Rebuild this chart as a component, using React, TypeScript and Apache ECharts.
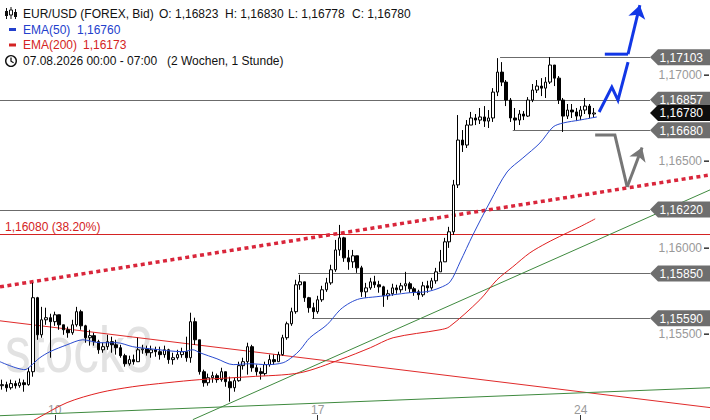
import React, { useEffect, useRef } from 'react';
import * as echarts from 'echarts';

const FONT = '"Liberation Sans", Arial, sans-serif';

// ---- axes ----
const SLOT_COUNT = 162; // 2-hour slots across the full width (incl. empty future slots)
const dayTickIdx = [12, 72, 132];
const dayTickLabel = ['10', '17', '24'];
const Y_MIN = 1.15;
const Y_MAX = 1.17435;
const Y_STEP = 0.005;
const yTickValues = [1.155, 1.16, 1.165, 1.17];

// ---- candles (2-hour) ----
const firstOpen = 1.15199;
const closes = [
  1.15205, 1.15187, 1.15211, 1.15199, 1.15216, 1.15205, 1.1528, 1.15709, 1.15494, 1.15581,
  1.15593, 1.1557, 1.1561, 1.15552, 1.15523, 1.15506, 1.15552, 1.15628, 1.15546, 1.15477,
  1.15489, 1.15454, 1.15407, 1.15425, 1.15454, 1.15436, 1.15419, 1.15373, 1.15326, 1.1535,
  1.15338, 1.15407, 1.15413, 1.1539, 1.15407, 1.15396, 1.15379, 1.15407, 1.1535, 1.15361,
  1.15379, 1.15396, 1.15361, 1.1557, 1.15465, 1.1528, 1.15216, 1.15245, 1.15257, 1.15234,
  1.1528, 1.15222, 1.15187, 1.15228, 1.15315, 1.15338, 1.15425, 1.15303, 1.1528, 1.15269,
  1.15321, 1.1535, 1.15338, 1.15379, 1.15477, 1.15558, 1.15628, 1.15784, 1.15801, 1.15709,
  1.15651, 1.15628, 1.15697, 1.15755, 1.15795, 1.15871, 1.15986, 1.16056, 1.1594, 1.15917,
  1.15952, 1.15882, 1.15743, 1.15766, 1.15801, 1.15784, 1.15772, 1.1572, 1.15732, 1.15766,
  1.15755, 1.15778, 1.1579, 1.15761, 1.15743, 1.15726, 1.15778, 1.15766, 1.15807, 1.15859,
  1.15917, 1.16033, 1.16091, 1.16363, 1.16623, 1.16594, 1.1671, 1.16751, 1.16739, 1.16757,
  1.16733, 1.16751, 1.16901, 1.17017, 1.16959, 1.16855, 1.16751, 1.16739, 1.16774, 1.16762,
  1.16855, 1.16913, 1.16936, 1.16924, 1.16959, 1.17058, 1.16982, 1.16855, 1.16762, 1.16797,
  1.16786, 1.16762, 1.16797, 1.1682, 1.16774, 1.1678,
];
const highs = [
  1.15234, 1.15222, 1.15234, 1.15228, 1.1524, 1.15234, 1.15303, 1.15795, 1.15714, 1.15656,
  1.15651, 1.15616, 1.15628, 1.15593, 1.15552, 1.15541, 1.15581, 1.15656, 1.15639, 1.15552,
  1.15523, 1.15506, 1.15465, 1.15448, 1.15494, 1.15483, 1.15465, 1.15436, 1.15384, 1.15373,
  1.15379, 1.15477, 1.15436, 1.15431, 1.15431, 1.15425, 1.15425, 1.15431, 1.15413, 1.1539,
  1.15407, 1.15419, 1.15483, 1.15622, 1.15593, 1.15465, 1.15292, 1.15269, 1.1528, 1.15269,
  1.15303, 1.1528, 1.15251, 1.15245, 1.15338, 1.15361, 1.15448, 1.15436, 1.15321, 1.15303,
  1.15338, 1.15379, 1.15379, 1.15396, 1.15494, 1.1557, 1.15651, 1.15813, 1.15842, 1.15795,
  1.15714, 1.1568, 1.1572, 1.15778, 1.15824, 1.159, 1.16044, 1.16131, 1.16062, 1.15986,
  1.15986, 1.15952, 1.15894, 1.15795, 1.15824, 1.15836, 1.15807, 1.15778, 1.15755, 1.1579,
  1.15784, 1.15795, 1.15859, 1.15801, 1.15772, 1.15755, 1.15801, 1.15807, 1.15824, 1.15882,
  1.15986, 1.16056, 1.1612, 1.16392, 1.16768, 1.16681, 1.16739, 1.16786, 1.16774, 1.16809,
  1.1682, 1.16797, 1.16924, 1.17098, 1.17075, 1.16971, 1.16867, 1.16809, 1.16797, 1.16791,
  1.16872, 1.16948, 1.16971, 1.16982, 1.16988, 1.17104, 1.17052, 1.16994, 1.16867, 1.16832,
  1.16832, 1.16809, 1.1682, 1.16867, 1.16832, 1.16809,
];
const lows = [
  1.15176, 1.15164, 1.15176, 1.15182, 1.15187, 1.15164, 1.15199, 1.15251, 1.15465, 1.15477,
  1.15552, 1.15361, 1.15546, 1.15523, 1.15494, 1.15477, 1.15494, 1.15541, 1.15523, 1.15448,
  1.15431, 1.15431, 1.15384, 1.1539, 1.15407, 1.1539, 1.15379, 1.15361, 1.15309, 1.15315,
  1.15321, 1.15338, 1.15384, 1.15373, 1.15361, 1.15367, 1.1535, 1.15361, 1.15326, 1.15321,
  1.1535, 1.15361, 1.15338, 1.15332, 1.15436, 1.15263, 1.15193, 1.15199, 1.15216, 1.15216,
  1.15222, 1.15193, 1.15106, 1.15164, 1.15222, 1.15292, 1.15263, 1.1528, 1.15257, 1.15234,
  1.15257, 1.15309, 1.15321, 1.15338, 1.15373, 1.15465, 1.15546, 1.15616, 1.15755, 1.15685,
  1.15622, 1.15587, 1.15616, 1.15685, 1.15743, 1.15784, 1.15859, 1.15952, 1.15917, 1.15871,
  1.15882, 1.15853, 1.15714, 1.15709, 1.15755, 1.15766, 1.15738, 1.15656, 1.15697, 1.1572,
  1.15732, 1.15738, 1.15749, 1.15738, 1.1572, 1.15697, 1.15714, 1.15738, 1.15755, 1.1579,
  1.15859, 1.15917, 1.15998, 1.16073, 1.16345, 1.16554, 1.16577, 1.16716, 1.1671, 1.16716,
  1.16699, 1.16693, 1.16728, 1.16878, 1.16936, 1.1682, 1.16728, 1.16681, 1.1671, 1.16739,
  1.16757, 1.16843, 1.16896, 1.16878, 1.16867, 1.16948, 1.16936, 1.16832, 1.1667, 1.16745,
  1.16751, 1.16733, 1.16739, 1.16774, 1.16751, 1.16751,
];

// ---- indicators [slot, value] ----
const ema50 = [
  [-0.5, 1.15338], [5.2, 1.15292], [6.3, 1.15309], [8.6, 1.15361], [10.9, 1.15396], [14.8, 1.15436],
  [18.4, 1.15465], [22.3, 1.15448], [26.2, 1.15448], [29.8, 1.15425], [33.7, 1.15413], [41.3, 1.15396],
  [43.5, 1.15407], [45.1, 1.1539], [49, 1.15355], [52.7, 1.15321], [56.5, 1.15326], [60.4, 1.15321],
  [64.1, 1.15332], [66.3, 1.15367], [68, 1.15407], [70.2, 1.15477], [74.1, 1.15552], [77.1, 1.15639],
  [79.4, 1.1568], [81.6, 1.15703], [85.5, 1.15715], [89.2, 1.15726], [93, 1.15738], [96.9, 1.15744],
  [99.9, 1.15767], [102.2, 1.15801], [104.5, 1.15917], [107.4, 1.16073], [111.3, 1.16264],
  [115.2, 1.16438], [118.8, 1.16519], [122.7, 1.16606], [125.7, 1.16699], [128, 1.16722],
  [131.8, 1.16739], [135.7, 1.16757],
];
const ema200 = [
  [1, 1.1491], [7.9, 1.15008], [14.8, 1.15101], [22.3, 1.15159], [29.8, 1.15193], [37.6, 1.15216],
  [45.1, 1.15234], [56.5, 1.15251], [68, 1.15274], [77.1, 1.1535], [84, 1.15419], [89.2, 1.15477],
  [99.9, 1.15523], [102, 1.1554], [109, 1.15697], [112.9, 1.15813], [116.5, 1.15888], [120.4, 1.15969],
  [124.3, 1.16027], [128, 1.16074], [131.8, 1.1612], [135.3, 1.16166],
];

// ---- drawn annotations [slot, price] ----
const redDottedTrend = [[-0.5, 1.15772], [161.5, 1.16421]];
const redTrend = [[-0.5, 1.15575], [161.5, 1.15072]];
const greenFlatTrend = [[-0.5, 1.15025], [161.5, 1.15187]];
const greenSteepTrend = [[43.5, 1.15002], [161.5, 1.16334]];
const blueZigzag = [[136.2, 1.16786], [139.1, 1.1693], [140.5, 1.16855], [142.8, 1.17075]];
const blueTopBar = [[137.5, 1.17121], [142.8, 1.17121]];
const blueShaft = [[142.8, 1.17121], [145.5, 1.17405]];
const grayPath = [[135.3, 1.16652], [139.8, 1.16652], [142.6, 1.16351]];
const grayShaft = [[142.6, 1.16351], [146.0, 1.1658]];

const levelPrices = [1.17103, 1.16857, 1.1668, 1.1622, 1.1585, 1.1559];
const levelStarts = [113.6, -0.5, 116.5, -0.5, 67.5, 70.7];
const fibPrice = 1.1608;
const fibLabel = '1,16080 (38.20%)';
const lastPrice = 1.1678;

// ---- header texts ----
const headerTitle = 'EUR/USD (FOREX, Bid)';
const headerOHLC = ['O: 1,16823', 'H: 1,16830', 'L: 1,16778', 'C: 1,16780'];
const headerOHLCx = [159, 225, 288, 352];
const ema50Legend = ['EMA(50)', '1,16760'];
const ema200Legend = ['EMA(200)', '1,16173'];
const dateLegend = ['07.08.2026 00:00 - 07:00', '(2 Wochen, 1 Stunde)'];

const fmt = (v: number) => v.toFixed(5).replace('.', ',');

const BLUE_TXT = '#2340cc';
const RED_TXT = '#d42323';

export default function App() {
  const ref = useRef<HTMLDivElement>(null);
  useEffect(() => {
    if (!ref.current) return;
    const chart = echarts.init(ref.current, undefined, { renderer: 'svg' });

    const categories = Array.from({ length: SLOT_COUNT }, (_, i) => {
      const k = dayTickIdx.indexOf(i);
      return k >= 0 ? dayTickLabel[k] : '';
    });
    const showTick = (i: number) => dayTickIdx.indexOf(i) >= 0;

    const candles = closes.map((c, i) => {
      const o = i === 0 ? firstOpen : closes[i - 1];
      const h = Math.max(highs[i], o, c);
      const l = Math.min(lows[i], o, c);
      return [o, c, l, h];
    });

    const levelData = levelPrices.map((p, i) => [levelStarts[i], p, 0]);
    levelData.push([-0.5, fibPrice, 2]);
    // kind 2 = axis tick mark, 0 = grey level tag, 1 = current price tag
    const tagData = yTickValues.map((v) => [0, v, 2]);
    levelPrices.forEach((p) => tagData.push([0, p, 0]));
    tagData.push([0, lastPrice, 1]);

    const txt = (text: string, x: number, y: number, fill: string) => ({
      type: 'text',
      x,
      y,
      silent: true,
      style: { text, fill, font: `12px ${FONT}`, align: 'left', verticalAlign: 'middle' },
    });

    const option: any = {
      animation: false,
      backgroundColor: '#ffffff',
      textStyle: { fontFamily: FONT },
      grid: { left: 0, right: 0, top: 0, bottom: 0, containLabel: false },
      xAxis: [
        {
          type: 'category',
          data: categories,
          boundaryGap: true,
          axisLine: { show: false, onZero: false },
          axisTick: {
            show: true,
            inside: true,
            length: 5,
            alignWithLabel: true,
            interval: (i: number) => showTick(i),
            lineStyle: { color: '#333' },
          },
          axisLabel: {
            inside: true,
            margin: 4,
            color: '#999',
            fontSize: 12,
            fontFamily: FONT,
            interval: (i: number) => showTick(i),
          },
          splitLine: { show: false },
        },
        { type: 'value', min: -0.5, max: SLOT_COUNT - 0.5, show: false, axisLine: { onZero: false } },
      ],
      yAxis: {
        type: 'value',
        position: 'right',
        min: Y_MIN,
        max: Y_MAX,
        interval: Y_STEP,
        axisLine: { show: false, onZero: false },
        axisTick: { show: false },
        axisLabel: {
          inside: true,
          margin: 8,
          color: '#999',
          fontSize: 12,
          fontFamily: FONT,
          showMinLabel: false,
          showMaxLabel: false,
          formatter: (v: number) => fmt(v),
        },
        splitLine: { show: false },
      },
      graphic: [
        {
          type: 'text',
          x: 5,
          y: 350,
          z: -10,
          silent: true,
          scaleX: 0.8,
          style: { text: 'stock3', fill: '#e2e2e2', font: `64px ${FONT}`, align: 'left', verticalAlign: 'middle' },
        },
        // candle icon
        { type: 'line', shape: { x1: 6.5, y1: 8, x2: 6.5, y2: 19 }, style: { stroke: '#111', lineWidth: 1 } },
        { type: 'rect', shape: { x: 5, y: 11, width: 3, height: 5 }, style: { fill: '#111' } },
        { type: 'line', shape: { x1: 11, y1: 7, x2: 11, y2: 19 }, style: { stroke: '#111', lineWidth: 1 } },
        { type: 'rect', shape: { x: 9.5, y: 10, width: 3, height: 5 }, style: { fill: '#fff', stroke: '#111', lineWidth: 1 } },
        { type: 'line', shape: { x1: 15.5, y1: 9, x2: 15.5, y2: 19 }, style: { stroke: '#111', lineWidth: 1 } },
        { type: 'rect', shape: { x: 14, y: 12, width: 3, height: 5 }, style: { fill: '#111' } },
        txt(headerTitle, 23, 13.5, '#111'),
        ...headerOHLC.map((t, i) => txt(t, headerOHLCx[i], 13.5, '#111')),
        { type: 'rect', shape: { x: 9, y: 28, width: 7, height: 3 }, style: { fill: BLUE_TXT } },
        txt(ema50Legend[0], 23, 29.5, BLUE_TXT),
        txt(ema50Legend[1], 77, 29.5, BLUE_TXT),
        { type: 'rect', shape: { x: 9, y: 43.5, width: 7, height: 3 }, style: { fill: RED_TXT } },
        txt(ema200Legend[0], 23, 45, RED_TXT),
        txt(ema200Legend[1], 83, 45, RED_TXT),
        { type: 'circle', shape: { cx: 11, cy: 61, r: 5.3 }, style: { fill: 'none', stroke: '#111', lineWidth: 1.4 } },
        { type: 'polyline', shape: { points: [[11, 57.6], [11, 61.2], [13.6, 62.8]] }, style: { fill: 'none', stroke: '#111', lineWidth: 1.3 } },
        txt(dateLegend[0], 23, 61, '#111'),
        txt(dateLegend[1], 167, 61, '#111'),
      ],
      series: [
        {
          type: 'custom',
          name: 'levels',
          xAxisIndex: 1,
          yAxisIndex: 0,
          z: 1,
          silent: true,
          data: levelData,
          renderItem: (params: any, api: any) => {
            const cs = params.coordSys;
            const kind = api.value(2);
            const p = api.coord([api.value(0), api.value(1)]);
            const y = Math.round(p[1]) + 0.5;
            const right = cs.x + cs.width;
            if (kind === 2) {
              return {
                type: 'group',
                children: [
                  { type: 'line', shape: { x1: cs.x, y1: y, x2: right, y2: y }, style: { stroke: '#d42323', lineWidth: 1 } },
                  {
                    type: 'text',
                    style: { text: fibLabel, x: cs.x + 5, y: y - 2, fill: RED_TXT, font: `12px ${FONT}`, align: 'left', verticalAlign: 'bottom' },
                  },
                ],
              };
            }
            return {
              type: 'line',
              shape: { x1: Math.max(cs.x, p[0]), y1: y, x2: right - 60, y2: y },
              style: { stroke: '#6b6b6b', lineWidth: 1 },
            };
          },
        },
        {
          type: 'lines',
          name: 'trend',
          coordinateSystem: 'cartesian2d',
          xAxisIndex: 1,
          yAxisIndex: 0,
          z: 2,
          silent: true,
          symbol: 'none',
          data: [
            { coords: redDottedTrend, lineStyle: { color: '#d9263b', width: 3.5, type: [4, 3.5], opacity: 1 } },
            { coords: redTrend, lineStyle: { color: '#e02b2b', width: 1, type: 'solid', opacity: 1 } },
            { coords: greenFlatTrend, lineStyle: { color: '#3f8a3f', width: 1, type: 'solid', opacity: 1 } },
            { coords: greenSteepTrend, lineStyle: { color: '#3f8a3f', width: 1, type: 'solid', opacity: 1 } },
          ],
        },
        {
          type: 'candlestick',
          name: 'EUR/USD',
          xAxisIndex: 0,
          yAxisIndex: 0,
          z: 3,
          barWidth: 3,
          data: candles,
          itemStyle: {
            color: '#ffffff',
            color0: '#000000',
            borderColor: '#000000',
            borderColor0: '#000000',
            borderWidth: 1,
          },
        },
        {
          type: 'line',
          name: 'EMA(200)',
          xAxisIndex: 1,
          yAxisIndex: 0,
          z: 4,
          data: ema200,
          showSymbol: false,
          smooth: 0.3,
          lineStyle: { color: '#e02020', width: 1 },
        },
        {
          type: 'line',
          name: 'EMA(50)',
          xAxisIndex: 1,
          yAxisIndex: 0,
          z: 4,
          data: ema50,
          showSymbol: false,
          smooth: 0.3,
          lineStyle: { color: '#2a4bd0', width: 1 },
        },
        {
          type: 'lines',
          name: 'arrows',
          coordinateSystem: 'cartesian2d',
          xAxisIndex: 1,
          yAxisIndex: 0,
          polyline: true,
          z: 5,
          silent: true,
          data: [
            { coords: blueZigzag, lineStyle: { color: '#1237e6', width: 3, opacity: 1 } },
            { coords: blueTopBar, lineStyle: { color: '#1237e6', width: 3, opacity: 1 } },
            { coords: grayPath, lineStyle: { color: '#767676', width: 3, opacity: 1 } },
          ],
        },
        {
          type: 'lines',
          name: 'arrowheads',
          coordinateSystem: 'cartesian2d',
          xAxisIndex: 1,
          yAxisIndex: 0,
          z: 5,
          silent: true,
          symbol: ['none', 'arrow'],
          symbolSize: 13,
          data: [
            { coords: blueShaft, lineStyle: { color: '#1237e6', width: 3, opacity: 1 } },
            { coords: grayShaft, lineStyle: { color: '#767676', width: 3, opacity: 1 } },
          ],
        },
        {
          type: 'custom',
          name: 'tags',
          xAxisIndex: 1,
          yAxisIndex: 0,
          z: 10,
          silent: true,
          data: tagData,
          renderItem: (params: any, api: any) => {
            const cs = params.coordSys;
            const price = api.value(1);
            const kind = api.value(2);
            const p = api.coord([0, price]);
            const y = p[1];
            const right = cs.x + cs.width;
            if (kind === 2) {
              return {
                type: 'rect',
                shape: { x: right - 6, y: Math.round(y) - 0.5, width: 5, height: 1.3 },
                style: { fill: '#111111' },
              };
            }
            const fill = kind === 1 ? '#0d0d0d' : '#6e6e6e';
            return {
              type: 'group',
              children: [
                {
                  type: 'polygon',
                  shape: {
                    points: [
                      [right - 60, y],
                      [right - 52, y - 8],
                      [right, y - 8],
                      [right, y + 8],
                      [right - 52, y + 8],
                    ],
                  },
                  style: { fill },
                },
                {
                  type: 'text',
                  style: { text: fmt(price), x: right - 7, y: y + 0.5, fill: '#ffffff', font: `12px ${FONT}`, align: 'right', verticalAlign: 'middle' },
                },
              ],
            };
          },
        },
      ],
    };
    chart.setOption(option);
    return () => chart.dispose();
  }, []);
  return <div ref={ref} style={{ position: 'fixed', left: 0, top: 0, width: 710, height: 420 }} />;
}
